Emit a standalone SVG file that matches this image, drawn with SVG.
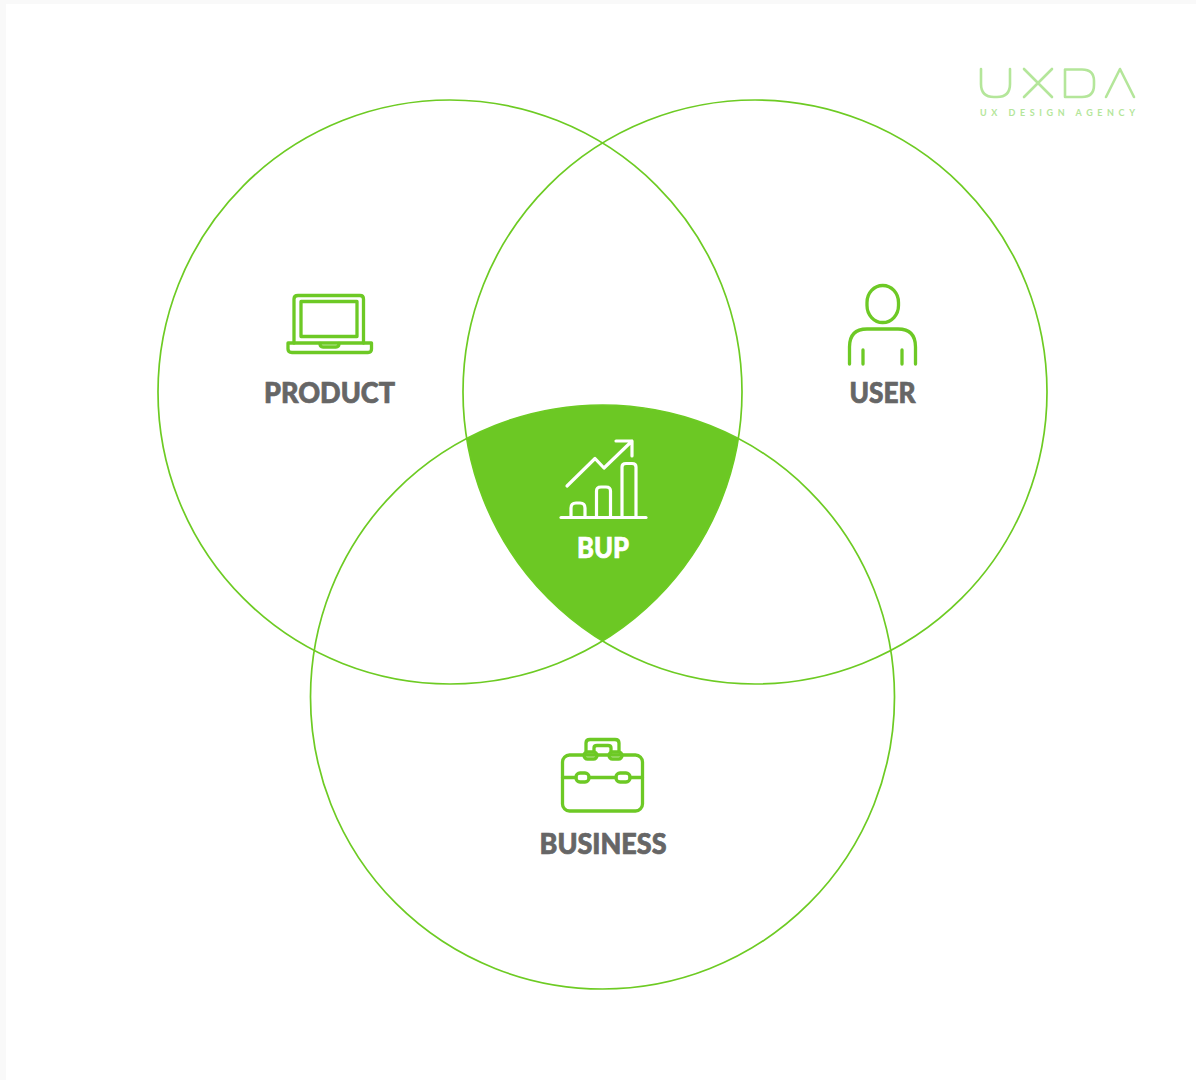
<svg xmlns="http://www.w3.org/2000/svg" width="1196" height="1080" viewBox="0 0 1196 1080">
<style>
.c{fill:none;stroke:#6dcb23;stroke-width:1.7}
.i{fill:none;stroke:#6dc925;stroke-width:3.3;stroke-linecap:round;stroke-linejoin:round}
.w{fill:none;stroke:#fff;stroke-width:3.200;stroke-linecap:round;stroke-linejoin:round}
.l{font-family:"Lato","Liberation Sans",sans-serif;font-weight:900;font-size:28px;fill:#666;text-anchor:middle;stroke:#666;stroke-width:.7}
.g{fill:none;stroke:#b4e69a;stroke-width:2.6;stroke-linecap:round;stroke-linejoin:round}
</style>
<rect width="1196" height="1080" fill="#f9f9f9"/>
<rect x="6" y="4" width="1190" height="1076" fill="#fff"/>
<g id="bup-region">
<path d="M466.5 438.5A292 292 0 0 1 738.5 438.5A292 292 0 0 1 602.5 641A292 292 0 0 1 466.5 438.5Z" fill="#6cc824"/>
</g>
<g id="connectors">
<circle class="c" cx="450" cy="392" r="292"/>
<circle class="c" cx="755" cy="392" r="292"/>
<circle class="c" cx="602.500" cy="697" r="292"/>
</g>
<g id="product">
<path class="i" d="M294 343V299Q294 295.500 298 295.500H360Q363.500 295.500 363.500 299V343"/>
<rect class="i" x="301" y="301.500" width="56" height="35"/>
<path class="i" d="M288 343H371.500V349Q371.500 352.500 368 352.500H292Q288 352.500 288 349Z"/>
<path class="i" d="M320 343.500Q320 347 323 347H336Q339 347 339 343.500"/>
<text class="l" x="329.500" y="403" textLength="131" lengthAdjust="spacingAndGlyphs">PRODUCT</text>
</g>
<g id="user">
<rect class="i" x="867" y="285.500" width="31.500" height="37" rx="15.700" ry="17"/>
<path class="i" d="M849.500 364V347Q849.500 329 867 329H898Q915.500 329 915.500 347V364"/>
<path class="i" d="M863 350V364M902 350V364"/>
<text class="l" x="882.500" y="403" textLength="66" lengthAdjust="spacingAndGlyphs">USER</text>
</g>
<g id="bup">
<path class="w" d="M567 486L595 458.500L604 468L632 441M616 441H632V456"/>
<path class="w" d="M561 517.500H646"/>
<path class="w" d="M571 517V508Q571 503 576 503H580Q585 503 585 508V517"/>
<path class="w" d="M596.500 517V491Q596.500 487 601 487H606Q610.500 487 610.500 491V517"/>
<path class="w" d="M622 517V467Q622 463.500 626 463.500H632Q636 463.500 636 467V517"/>
<text class="l" x="603" y="558" textLength="52" lengthAdjust="spacingAndGlyphs" style="fill:#fff;stroke:#fff">BUP</text>
</g>
<g id="business">
<rect class="i" x="562.500" y="755" width="80" height="56" rx="7"/>
<path class="i" d="M562.500 777.500H576M589 777.500H616M630 777.500H642.500"/>
<rect class="i" x="576" y="773" width="13" height="9" rx="4"/>
<rect class="i" x="616" y="773" width="14" height="9" rx="4"/>
<rect class="i" x="584" y="752" width="13" height="7" rx="3.500"/>
<rect class="i" x="609" y="752" width="13" height="7" rx="3.500"/>
<path class="i" d="M586 751V743Q586 739.500 590 739.500H615Q619 739.500 619 743V751"/>
<path class="i" d="M594 751V748Q594 745.500 597 745.500H608Q611 745.500 611 748V751"/>
<text class="l" x="603" y="854" textLength="127" lengthAdjust="spacingAndGlyphs">BUSINESS</text>
</g>
<g id="logo">
<path class="g" d="M981 69V84Q981 97 994 97H997Q1010 97 1010 84V69"/>
<path class="g" d="M1024 69L1052 97M1052 69L1024 97"/>
<path class="g" d="M1065 69.500H1082Q1094 69.500 1094 81V85Q1094 97 1082 97H1065Z"/>
<path class="g" d="M1106 97L1120 69L1134 97"/>
<text x="980" y="116" font-family="Lato,'Liberation Sans',sans-serif" font-size="9" font-weight="700" fill="#b4e69a" textLength="155">UX DESIGN AGENCY</text>
</g>
</svg>
